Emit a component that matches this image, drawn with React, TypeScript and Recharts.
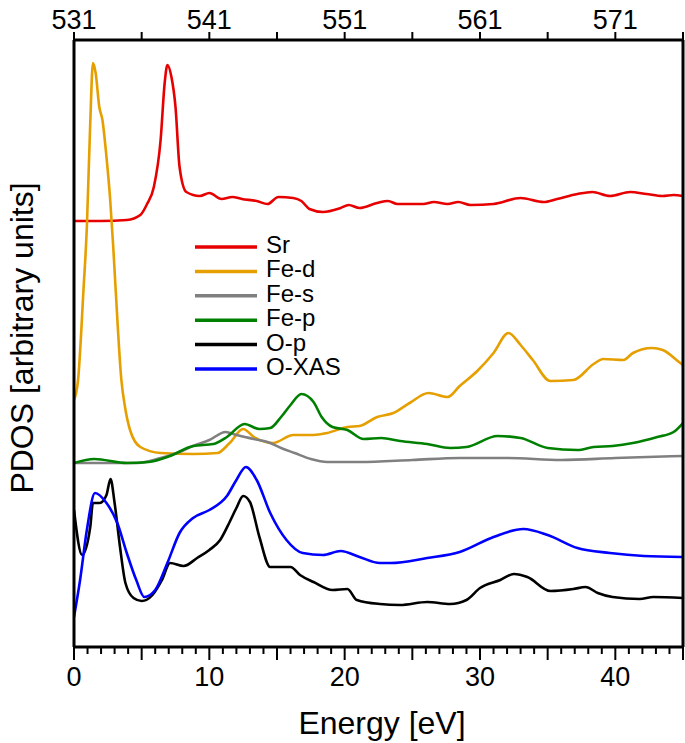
import React from 'react';
import { LineChart, Line, XAxis, YAxis } from 'recharts';

// Energy in eV (bottom axis), intensity in arbitrary units (curves are offset vertically)
type Pt = { e: number; v: number };
const pts = (e: number[], v: number[]): Pt[] => e.map((x, i) => ({ e: x, v: v[i] }));

const srE = [0, 2, 3.9, 4.9, 5.4, 5.9, 6.4, 6.7, 6.9, 7.2, 7.5, 7.8, 8.3, 9.3, 10.0, 10.9, 11.7, 12.4, 13.5, 14.3, 15.1, 16.2, 16.8, 17.4, 18.4, 19.7, 20.3, 21.1, 22.4, 23.2, 23.9, 25.8, 26.6, 27.6, 28.4, 29.3, 31.0, 33.0, 34.7, 35.7, 37.2, 38.3, 39.6, 41.1, 42.3, 43.5, 44.3, 45];
const srV = [42.6, 42.6, 42.7, 43.2, 44.3, 46.0, 50.7, 56.4, 58.2, 57.0, 54.0, 48.0, 45.5, 45.1, 45.4, 44.8, 45.0, 44.8, 44.6, 44.3, 45.0, 44.9, 44.6, 43.8, 43.5, 43.9, 44.2, 43.9, 44.4, 44.6, 44.3, 44.3, 44.5, 44.3, 44.5, 44.2, 44.3, 44.9, 44.5, 44.8, 45.3, 45.5, 45.1, 45.5, 45.3, 45.1, 45.2, 45.1];

const fedE = [0, 0.3, 0.7, 0.95, 1.2, 1.4, 1.6, 1.87, 2.1, 2.4, 2.66, 2.9, 3.08, 3.5, 3.77, 4.14, 4.9, 6.4, 8.8, 10.6, 11.5, 12.5, 13.3, 14.7, 16.2, 17.7, 18.7, 20.2, 21.1, 22.4, 23.6, 24.8, 26.2, 27.6, 28.5, 29.8, 31.0, 32.1, 33.0, 33.9, 35.2, 36.9, 38.4, 39.1, 40.6, 41.3, 42.7, 43.5, 44.8, 45];
const fedV = [24.7, 26.7, 35.7, 42.0, 52.4, 58.4, 57.4, 54.0, 52.7, 49.0, 45.0, 40.0, 35.7, 26.7, 24.0, 21.7, 20.0, 19.4, 19.3, 19.4, 20.4, 21.8, 21.0, 20.4, 21.2, 21.2, 21.4, 22.0, 22.1, 23.0, 23.4, 24.4, 25.4, 25.0, 26.1, 27.6, 29.4, 31.4, 30.2, 28.7, 26.6, 26.7, 28.3, 28.8, 28.7, 29.4, 29.9, 29.7, 28.4, 28.2];

const fesE = [0, 4.7, 6.4, 7.8, 8.8, 10.0, 11.2, 12.0, 13.3, 14.3, 15.3, 16.3, 17.5, 18.7, 21.1, 25, 28.5, 32, 36, 40, 45];
const fesV = [18.4, 18.4, 18.9, 19.5, 20.1, 20.7, 21.5, 21.2, 20.8, 20.5, 19.9, 19.4, 18.8, 18.5, 18.5, 18.7, 18.9, 18.9, 18.7, 18.9, 19.1];

const fepE = [0, 1.5, 3.9, 5.5, 7.1, 8.8, 10.3, 11.3, 12.6, 13.7, 14.5, 15.3, 16.0, 16.8, 17.7, 18.3, 19.1, 20.2, 21.4, 22.7, 24.1, 26.1, 27.8, 29.0, 31.3, 33.0, 35.0, 37.2, 38.4, 39.8, 41.3, 43.1, 44.3, 45];
const fepV = [18.4, 18.8, 18.4, 18.5, 19.1, 20.1, 20.3, 21.0, 22.3, 21.8, 21.9, 23.0, 24.2, 25.3, 24.5, 23.0, 22.0, 21.7, 20.8, 20.9, 20.6, 20.3, 19.9, 20.0, 21.1, 20.9, 19.9, 19.7, 20.0, 20.1, 20.4, 21.0, 21.5, 22.4];

const opE = [0, 0.6, 1.2, 1.4, 1.9, 2.4, 2.7, 3.0, 3.4, 3.8, 4.4, 5.0, 5.8, 6.5, 7.1, 8.1, 9.1, 10.0, 10.8, 11.5, 12.0, 12.5, 13.0, 13.7, 14.5, 16.0, 16.7, 17.7, 19.1, 20.2, 20.9, 22.6, 24.1, 26.1, 27.8, 29.0, 30.0, 31.5, 32.5, 33.5, 35.2, 36.9, 37.8, 38.7, 39.8, 41.8, 42.8, 45];
const opV = [13.7, 9.2, 12.0, 14.4, 14.4, 15.2, 16.8, 14.4, 10.0, 6.4, 4.9, 4.6, 5.2, 6.7, 8.4, 8.1, 8.9, 9.7, 10.7, 12.5, 13.9, 15.1, 14.5, 11.0, 8.0, 8.0, 7.2, 6.5, 5.7, 5.8, 4.7, 4.3, 4.2, 4.5, 4.3, 4.7, 5.9, 6.7, 7.3, 7.0, 5.6, 5.8, 6.0, 5.4, 5.0, 4.8, 5.0, 4.9];

const xasE = [0, 0.45, 0.95, 1.55, 2.4, 3.2, 3.9, 4.6, 5.2, 6.0, 6.9, 7.8, 8.8, 10.0, 11.3, 12.0, 12.7, 13.5, 14.5, 15.7, 16.9, 18.4, 19.7, 21.1, 22.6, 23.4, 26.1, 28.5, 31.0, 33.2, 35.0, 37.2, 39.6, 42.1, 45];
const xasV = [3.0, 6.7, 11.7, 15.4, 14.4, 12.4, 9.4, 6.7, 5.0, 5.7, 8.4, 11.4, 12.9, 13.7, 15.1, 16.7, 18.0, 16.7, 13.4, 10.7, 9.4, 9.2, 9.6, 9.0, 8.4, 8.4, 8.9, 9.5, 11.0, 11.8, 11.2, 9.9, 9.4, 9.1, 9.0];

const bottomTicks = Array.from({ length: 46 }, (_, i) => i);
// photon energy scale on top (eV), offset from the bottom axis
const topTicks = [531, 536, 541, 546, 551, 556, 561, 566, 571, 576];

const SERIES = [
  { name: 'Sr', color: '#e60000', data: pts(srE, srV) },
  { name: 'Fe-d', color: '#e69f00', data: pts(fedE, fedV) },
  { name: 'Fe-s', color: '#808080', data: pts(fesE, fesV) },
  { name: 'Fe-p', color: '#008000', data: pts(fepE, fepV) },
  { name: 'O-p', color: '#000000', data: pts(opE, opV) },
  { name: 'O-XAS', color: '#0000ff', data: pts(xasE, xasV) },
];

// invisible series tying the top / right axes to the chart so they get drawn
const frameData = topTicks.map((t) => ({ e: t, v: 0 }));

const FONT = '"Liberation Sans", Arial, sans-serif';

function BottomTick({ x, y, payload }: any) {
  const v = payload.value as number;
  const major = v % 5 === 0;
  return (
    <g>
      <line x1={x} x2={x} y1={y} y2={y + (major ? 13 : 7)} stroke="#000" strokeWidth={2} />
      {v % 10 === 0 && (
        <text x={x} y={y + 39} textAnchor="middle" fontSize={27} fontFamily={FONT} fill="#000">
          {v}
        </text>
      )}
    </g>
  );
}

function TopTick({ x, y, payload }: any) {
  const v = payload.value as number;
  return (
    <g>
      <line x1={x} x2={x} y1={y} y2={y - 8} stroke="#000" strokeWidth={2} />
      {(v - 531) % 10 === 0 && (
        <text x={x} y={y - 11} textAnchor="middle" fontSize={27} fontFamily={FONT} fill="#000">
          {v}
        </text>
      )}
    </g>
  );
}

export default function App() {
  return (
    <div style={{ position: 'absolute', left: 0, top: 0, width: 685, height: 743, background: '#fff' }}>
      <LineChart width={685} height={743} margin={{ top: 0, right: 0, bottom: 0, left: 0 }}>
        <XAxis
          xAxisId="bottom"
          type="number"
          dataKey="e"
          domain={[0, 45]}
          allowDataOverflow
          ticks={bottomTicks}
          interval={0}
          height={96}
          tickSize={0}
          tickMargin={0}
          tickLine={false}
          axisLine={{ stroke: '#000', strokeWidth: 3 }}
          tick={<BottomTick />}
        />
        <XAxis
          xAxisId="top"
          orientation="top"
          type="number"
          dataKey="e"
          domain={[531, 576]}
          allowDataOverflow
          ticks={topTicks}
          interval={0}
          height={40}
          tickSize={0}
          tickMargin={0}
          tickLine={false}
          axisLine={{ stroke: '#000', strokeWidth: 3 }}
          tick={<TopTick />}
        />
        <YAxis
          yAxisId="left"
          type="number"
          domain={[0, 60.7]}
          allowDataOverflow
          width={74}
          tick={false}
          tickLine={false}
          axisLine={{ stroke: '#000', strokeWidth: 3 }}
        />
        <YAxis
          yAxisId="right"
          orientation="right"
          type="number"
          domain={[0, 1]}
          allowDataOverflow
          width={2}
          tick={false}
          tickLine={false}
          axisLine={{ stroke: '#000', strokeWidth: 3 }}
        />
        <Line
          xAxisId="top"
          yAxisId="right"
          data={frameData}
          dataKey="v"
          stroke="none"
          dot={false}
          activeDot={false}
          legendType="none"
          isAnimationActive={false}
        />
        {SERIES.map((s) => (
          <Line
            key={s.name}
            xAxisId="bottom"
            yAxisId="left"
            data={s.data}
            dataKey="v"
            name={s.name}
            type="monotone"
            stroke={s.color}
            strokeWidth={2.6}
            dot={false}
            activeDot={false}
            isAnimationActive={false}
          />
        ))}
      </LineChart>

      {/* axis titles and legend */}
      <svg width={685} height={743} style={{ position: 'absolute', left: 0, top: 0, pointerEvents: 'none' }}>
        <text x={382} y={734} textAnchor="middle" fontSize={32} fontFamily={FONT} fill="#000">
          Energy [eV]
        </text>
        <text
          x={33}
          y={338}
          transform="rotate(-90, 33, 338)"
          textAnchor="middle"
          fontSize={32}
          fontFamily={FONT}
          fill="#000"
        >
          PDOS [arbitrary units]
        </text>
        {SERIES.map((s, i) => {
          const ly = 247 + i * 24.4;
          return (
            <g key={s.name}>
              <line x1={195} x2={257} y1={ly} y2={ly} stroke={s.color} strokeWidth={3.5} />
              <text x={266} y={ly + 6} fontSize={24} fontFamily={FONT} fill="#000">
                {s.name}
              </text>
            </g>
          );
        })}
      </svg>
    </div>
  );
}
